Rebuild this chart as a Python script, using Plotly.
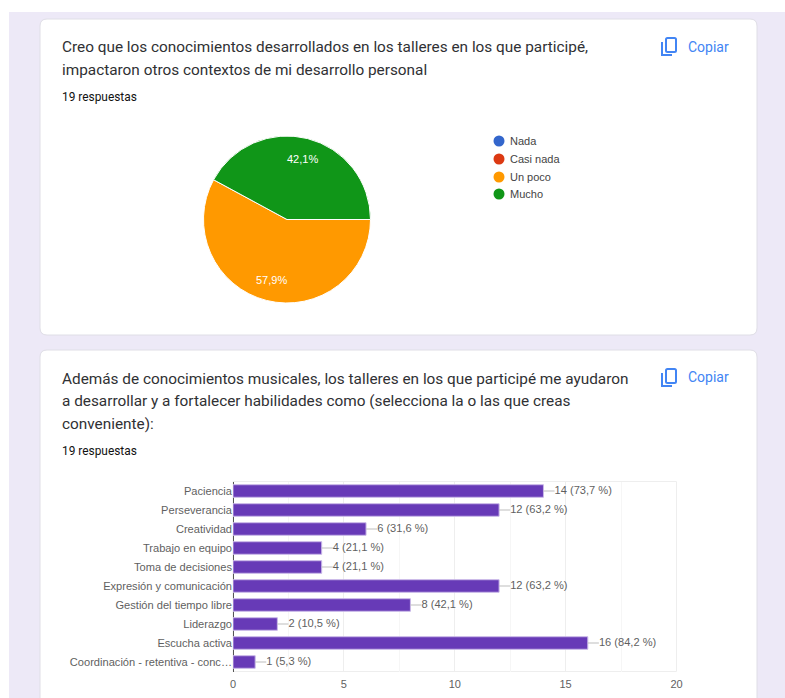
import math
import plotly.graph_objects as go

W, H = 785, 698

# ---- data ----
pie_labels = ["Nada", "Casi nada", "Un poco", "Mucho"]
pie_values = [0, 0, 11, 8]
pie_colors = ["#3366cc", "#dc3912", "#ff9900", "#109618"]

bar_categories = ["Paciencia", "Perseverancia", "Creatividad", "Trabajo en equipo", "Toma de decisiones",
                  "Expresión y comunicación", "Gestión del tiempo libre", "Liderazgo", "Escucha activa",
                  "Coordinación - retentiva - conc…"]
bar_values = [14, 12, 6, 4, 4, 12, 8, 2, 16, 1]
bar_percent = ["73,7", "63,2", "31,6", "21,1", "21,1", "63,2", "42,1", "10,5", "84,2", "5,3"]
x_ticks = [0, 5, 10, 15, 20]

title_1 = ["Creo que los conocimientos desarrollados en los talleres en los que participé,",
           "impactaron otros contextos de mi desarrollo personal"]
title_2 = ["Además de conocimientos musicales, los talleres en los que participé me ayudaron",
           "a desarrollar y a fortalecer habilidades como (selecciona la o las que creas",
           "conveniente):"]
responses = "19 respuestas"
copy_label = "Copiar"

LEADER = 0.5
PIE_CX, PIE_CY, PIE_R = 287, 219.5, 83.5
PIE_LABEL_R = 62
LEGEND_Y = [141, 159, 177, 194]


def fx(x):
    return x / W


def fy(y):
    return 1 - y / H


def rrect(x0, y0, x1, y1, r):
    X0, X1, Y0, Y1 = fx(x0), fx(x1), fy(y0), fy(y1)
    rx, ry = r / W, r / H
    return (f"M {X0+rx} {Y0} L {X1-rx} {Y0} Q {X1} {Y0} {X1} {Y0-ry} L {X1} {Y1+ry} Q {X1} {Y1} {X1-rx} {Y1} "
            f"L {X0+rx} {Y1} Q {X0} {Y1} {X0} {Y1+ry} L {X0} {Y0-ry} Q {X0} {Y0} {X0+rx} {Y0} Z")


def card(x0, y0, x1, y1):
    return dict(type="path", xref="paper", yref="paper", path=rrect(x0, y0, x1, y1, 7),
                fillcolor="#ffffff", line=dict(color="#dfdee6", width=1), layer="below")


def label(text, x, y, size, color="#303134", family="Roboto", anchor="left"):
    offset = -2 if anchor == "left" else 0
    return dict(text=text, x=fx(x + offset), y=fy(y), xref="paper", yref="paper", xanchor=anchor, yanchor="middle",
                showarrow=False, font=dict(family=family, size=size, color=color))


def copy_icon(x, y):
    c = "#4285f4"
    return [
        dict(type="path", xref="paper", yref="paper", path=rrect(x + 5, y, x + 15, y + 14, 1.5),
             line=dict(color=c, width=2), fillcolor="rgba(0,0,0,0)"),
        dict(type="path", xref="paper", yref="paper",
             path=f"M {fx(x+1)} {fy(y+4)} L {fx(x+1)} {fy(y+17)} L {fx(x+11)} {fy(y+17)}",
             line=dict(color=c, width=2)),
    ]


fig = go.Figure()

fig.add_trace(go.Pie(
    labels=pie_labels, values=pie_values, sort=False, direction="clockwise", rotation=90,
    marker=dict(colors=pie_colors, line=dict(color="#ffffff", width=1)),
    domain=dict(x=[fx(PIE_CX - PIE_R), fx(PIE_CX + PIE_R)], y=[fy(PIE_CY + PIE_R), fy(PIE_CY - PIE_R)]),
    textinfo="none", showlegend=False, hoverinfo="label+percent",
))

fig.add_trace(go.Bar(
    x=bar_values, y=bar_categories, orientation="h",
    marker=dict(color="#673ab7", line=dict(color="#c9b8e8", width=1)),
    error_x=dict(type="data", symmetric=False, array=[LEADER] * len(bar_values), arrayminus=[0] * len(bar_values),
                 color="#bdbdbd", thickness=1, width=0),
    showlegend=False,
))
fig.add_trace(go.Scatter(
    x=[v + LEADER for v in bar_values], y=bar_categories, mode="text",
    text=[f"{v} ({p} %)" for v, p in zip(bar_values, bar_percent)], textposition="middle right",
    textfont=dict(family="Liberation Sans", size=11.1, color="#5f5f5f"), showlegend=False, cliponaxis=False,
    hoverinfo="skip",
))

shapes = [
    dict(type="rect", xref="paper", yref="paper", x0=fx(9), x1=1, y0=0, y1=fy(12),
         fillcolor="#ede9f7", line=dict(width=0), layer="below"),
    card(40, 19, 757, 335),
    card(40, 350, 757, 720),
    dict(type="rect", xref="x domain", yref="y domain", x0=0, x1=1, y0=0, y1=1,
         line=dict(color="#eeeeee", width=1), layer="below"),
]
shapes += copy_icon(661, 38) + copy_icon(661, 369)

annotations = [
    label(title_1[0], 62, 47, 15.35), label(title_1[1], 62, 70, 15.35),
    label(responses, 62, 97, 11.9, color="#111111"),
    label(copy_label, 688, 47, 14, color="#4285f4"),
    label(title_2[0], 62, 379, 15.35), label(title_2[1], 62, 401, 15.35), label(title_2[2], 62, 424, 15.35),
    label(responses, 62, 451, 11.9, color="#111111"),
    label(copy_label, 688, 377, 14, color="#4285f4"),
]

# legend entries
for name, colr, ly in zip(pie_labels, pie_colors, LEGEND_Y):
    shapes.append(dict(type="circle", xref="paper", yref="paper", x0=fx(493.5), x1=fx(504.5),
                       y0=fy(ly + 5.5), y1=fy(ly - 5.5), fillcolor=colr, line=dict(width=0)))
    annotations.append(label(name, 510, ly, 11, color="#444444", family="Liberation Sans"))

# pie percentages, at the middle angle of each non-empty slice
total = sum(pie_values)
angle = 0.0
for v in pie_values:
    if v:
        mid = math.radians(angle + v / total * 180)
        annotations.append(label(f"{v / total * 100:.1f}%".replace(".", ","),
                                 PIE_CX + PIE_LABEL_R * math.cos(mid), PIE_CY + PIE_LABEL_R * math.sin(mid),
                                 11, color="#ffffff", family="Liberation Sans", anchor="center"))
    angle += v / total * 360

fig.update_layout(
    width=W, height=H, autosize=False, margin=dict(l=0, r=0, t=0, b=0, autoexpand=False),
    paper_bgcolor="#ffffff", plot_bgcolor="rgba(0,0,0,0)",
    shapes=shapes, annotations=annotations, bargap=0.34, showlegend=False,
    font=dict(family="Liberation Sans", color="#5f5f5f"),
    xaxis=dict(type="linear", domain=[fx(233), fx(676.5)], range=[0, 20], tickvals=x_ticks, showgrid=True,
               gridcolor="#eeeeee", minor=dict(dtick=2.5, tick0=0, showgrid=True, gridcolor="#f6f6f6"),
               zeroline=True, zerolinecolor="#555555", zerolinewidth=1, tickfont=dict(size=11, color="#5f5f5f"),
               ticks="outside", ticklen=2, tickcolor="rgba(0,0,0,0)", fixedrange=True),
    yaxis=dict(type="category", domain=[fy(671.5), fy(481.5)], categoryorder="array", categoryarray=bar_categories,
               autorange="reversed", tickfont=dict(size=11.1, color="#5f5f5f"), ticks="", ticklen=0,
               showgrid=False, fixedrange=True),
)

fig.write_html("out.html", config=dict(displayModeBar=False), post_script="document.body.style.margin='0';")
